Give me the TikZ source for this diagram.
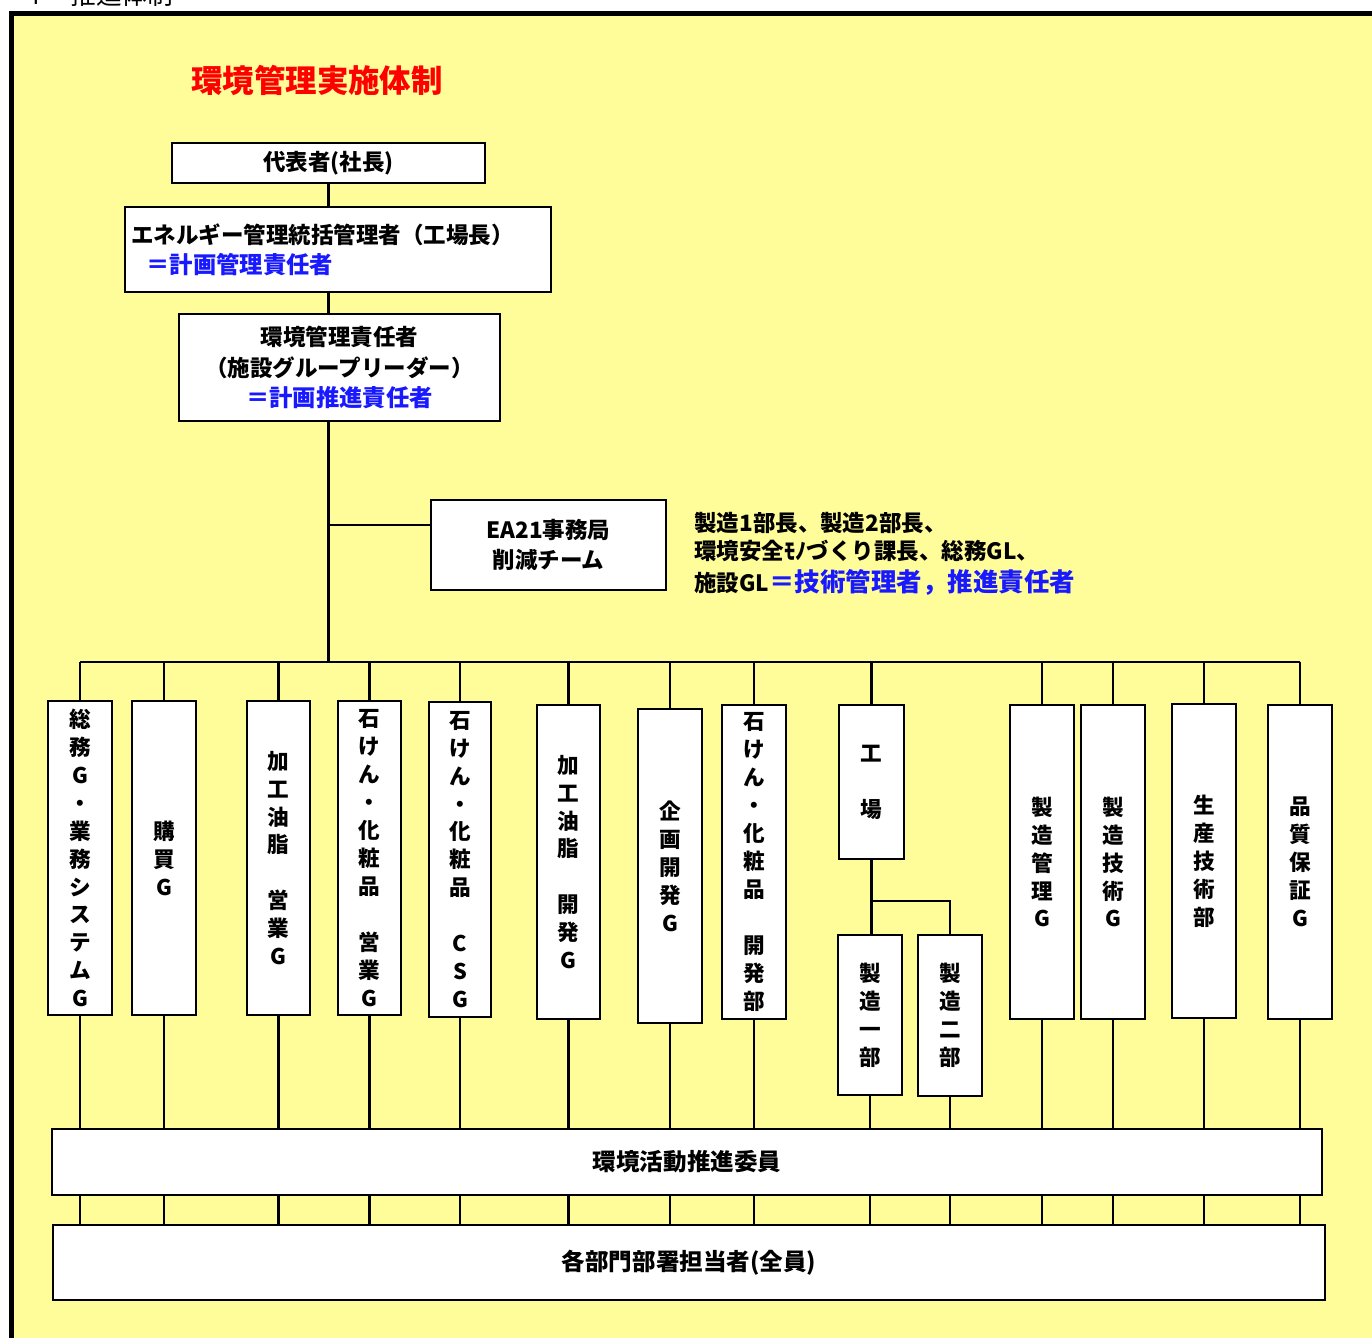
\documentclass[tikz,border=0pt]{standalone}
\usepackage{fontspec}
\setmainfont{Noto Sans CJK JP}
\definecolor{bgyellow}{RGB}{255,253,153}
\definecolor{titlered}{RGB}{255,0,0}
\definecolor{noteblue}{RGB}{25,25,255}
\begin{document}
\begin{tikzpicture}[x=0.02cm,y=-0.02cm,
  box/.style={draw=black, fill=white, line width=1.3pt, inner sep=0pt, align=center},
  rbox/.style args={#1/#2/#3/#4}{at={({(#1+#3)/2},{(#2+#4)/2})}, minimum width={(#3-#1)*0.02cm}, minimum height={(#4-#2)*0.02cm}},
  txt/.style={font=\fontsize{12.8}{17}\selectfont\bfseries},
  bigtxt/.style={font=\fontsize{13.4}{17}\selectfont\bfseries},
  col/.style={box, font=\fontsize{12.3}{15.9}\selectfont\bfseries},
  conn/.style={line width=1.3pt},
]
\clip (0,0) rectangle (1372,1338);
\useasboundingbox (0,0) rectangle (1372,1338);
\fill[white] (0,0) rectangle (1372,1338);
\fill[bgyellow] (11.5,13.5) rectangle (1372,1338);
\draw[line width=2.9pt] (11.5,1400) -- (11.5,13.5) -- (1400,13.5);

% cut-off heading
\node[anchor=base west, inner sep=0, font=\fontsize{14.6}{17}\selectfont] (hd) at (26,5) {4\hspace{17pt}推進体制};

% title
\node[font=\fontsize{17.9}{20}\selectfont\bfseries, text=titlered] (title) at (317,80) {環境管理実施体制};

% top boxes
\node[box, txt, rbox=172/143/485/183] (ceo) {代表者(社長)};
\node[box, rbox=125/207/551/292] (ene) {};
\node[txt, anchor=west, inner sep=0] (ene1) at (131,235) {エネルギー管理統括管理者（工場長）};
\node[anchor=west, inner sep=0, font=\fontsize{13.3}{17}\selectfont\bfseries, text=noteblue] (ene2) at (146,265) {＝計画管理責任者};
\node[box, font=\fontsize{12.8}{17.3}\selectfont\bfseries, rbox=179/314/500/421] (env)
  {環境管理責任者\\（施設グループリーダー）\\{\fontsize{13.3}{17.3}\selectfont\color{noteblue}＝計画推進責任者}};

\node[box, font=\fontsize{12.8}{17}\selectfont\bfseries, rbox=431/500/666/590] (ea) {EA21事務局\\削減チーム};

\node[txt, anchor=base west, inner sep=0] (n1) at (694,531) {製造1部長、製造2部長、};
\node[txt, anchor=base west, inner sep=0] (n2) at (694,559) {環境安全ﾓﾉづくり課長、総務GL、};
\node[txt, anchor=base west, inner sep=0] (n3) at (694,591) {施設GL{\fontsize{14.5}{17}\selectfont\color{noteblue}＝技術管理者，推進責任者}};

% columns
\node[col, rbox=48/701/112/1015] (c1) {総\\務\\G\\・\\業\\務\\シ\\ス\\テ\\ム\\G};
\node[col, rbox=132/701/196/1015] (c2) {購\\買\\G};
\node[col, rbox=247/701/310/1015] (c3) {加\\工\\油\\脂\\\mbox{}\\営\\業\\G};
\node[col, rbox=338/701/401/1015] (c4) {石\\け\\ん\\・\\化\\粧\\品\\\mbox{}\\営\\業\\G};
\node[col, rbox=429/702/491/1017] (c5) {石\\け\\ん\\・\\化\\粧\\品\\\mbox{}\\C\\S\\G};
\node[col, rbox=537/705/600/1019] (c6) {加\\工\\油\\脂\\\mbox{}\\開\\発\\G};
\node[col, rbox=638/709/702/1023] (c7) {企\\画\\開\\発\\G};
\node[col, rbox=722/705/786/1019] (c8) {石\\け\\ん\\・\\化\\粧\\品\\\mbox{}\\開\\発\\部};
\node[col, rbox=839/705/904/859] (fac) {工\\\mbox{}\\場};
\node[col, rbox=838/935/902/1095] (m1) {製\\造\\一\\部};
\node[col, rbox=918/935/982/1096] (m2) {製\\造\\二\\部};
\node[col, rbox=1010/705/1074/1019] (c10) {製\\造\\管\\理\\G};
\node[col, rbox=1081/705/1145/1019] (c11) {製\\造\\技\\術\\G};
\node[col, rbox=1172/704/1236/1018] (c12) {生\\産\\技\\術\\部};
\node[col, rbox=1268/705/1332/1019] (c13) {品\\質\\保\\証\\G};

% bottom boxes
\node[box, bigtxt, rbox=52/1129/1322/1195] (com) {環境活動推進委員};
\node[box, bigtxt, rbox=53/1225/1325/1300] (staff) {各部門部署担当者(全員)};

% connectors
\coordinate (bus) at (328.5,662);
\coordinate (ebr) at (328.5,525);
\draw[conn] (ceo.south) -- (ceo.south |- ene.north);
\draw[conn] (ceo.south |- ene.south) -- (ceo.south |- env.north);
\draw[conn] (ceo.south |- env.south) -- (bus);
\draw[conn] (ebr) -- (ebr -| ea.west);
\draw[conn] (c1.north |- bus) -- (c13.north |- bus);
\foreach \n in {c1,c2,c3,c4,c5,c6,c7,c8,fac,c10,c11,c12,c13}
  \draw[conn] (\n.north |- bus) -- (\n.north);
\draw[conn] (fac.south) -- (fac.south |- m1.north);
\path (fac.south) ++(0,41) coordinate (fb);
\draw[conn] (fb) -| (m2.north);
\foreach \n in {c1,c2,c3,c4,c5,c6,c7,c8,m1,m2,c10,c11,c12,c13}{
  \draw[conn] (\n.south) -- (\n.south |- com.north);
  \draw[conn] (\n.south |- com.south) -- (\n.south |- staff.north);
}
\end{tikzpicture}
\end{document}
